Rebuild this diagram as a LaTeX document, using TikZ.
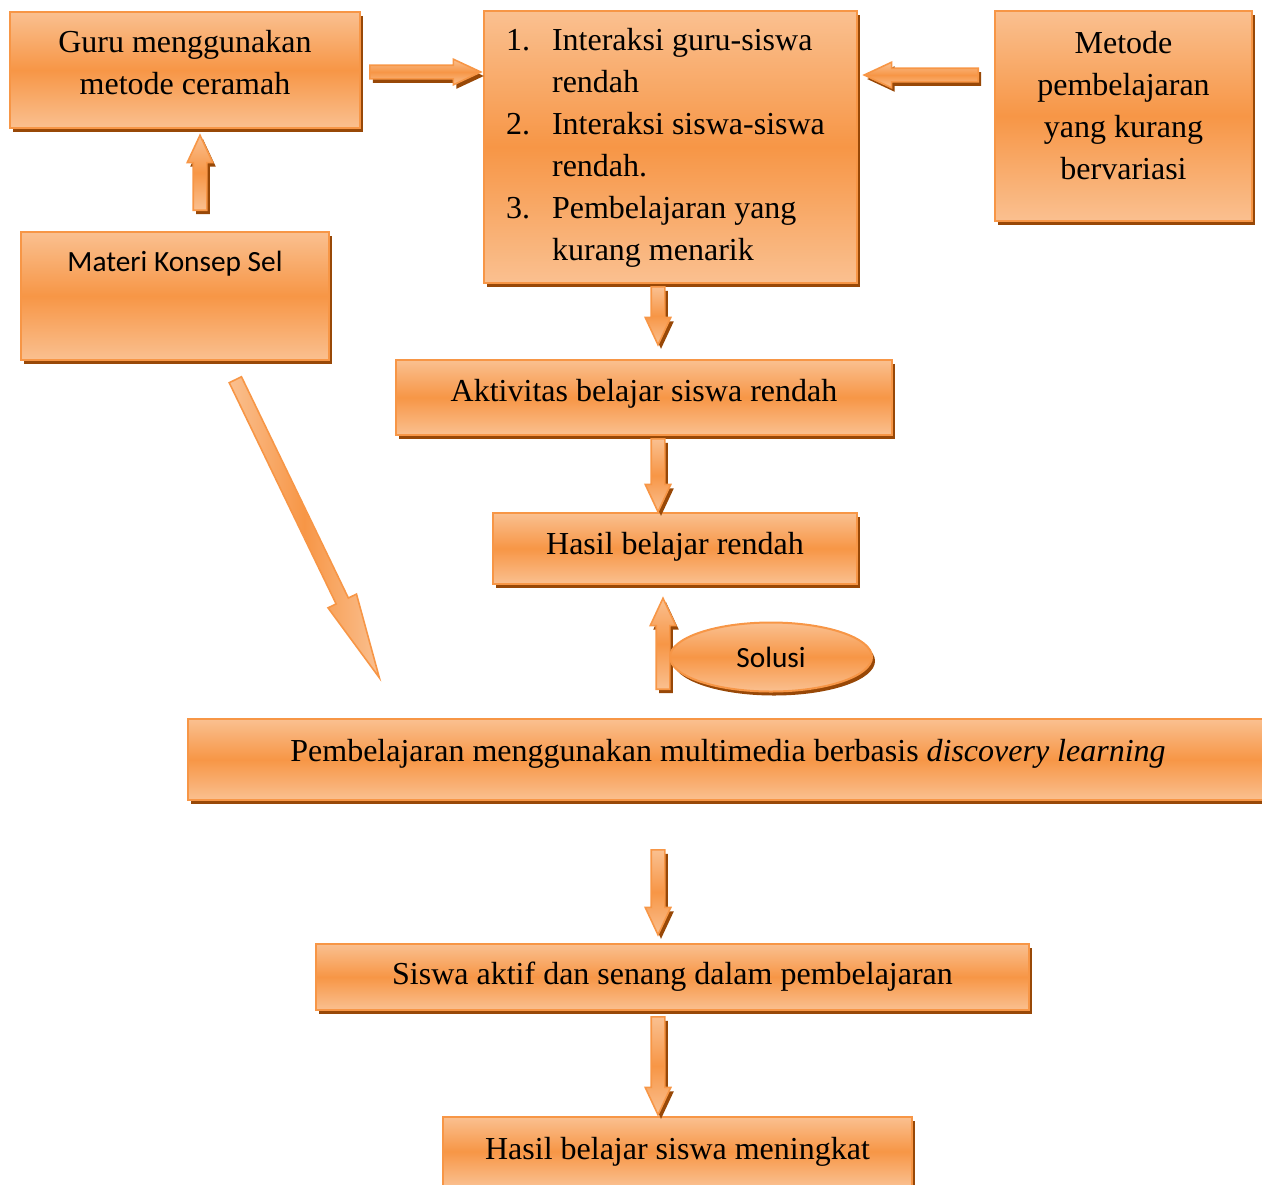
\documentclass[tikz,border=0pt]{standalone}
\usepackage{fontspec}
\setmainfont{Liberation Serif}
\newfontfamily\calibri{Carlito}
\usetikzlibrary{shapes.geometric,shapes.arrows,shadows,calc}

\definecolor{orglight}{HTML}{FAC090}
\definecolor{orgmid}{HTML}{F79646}
\definecolor{orgshadow}{HTML}{984807}

\newcommand{\blockarr}[3][barrow]{%
        \path let \p1=(#2), \p2=(#3), \n1={atan2(\y2-\y1,\x2-\x1)},
        \n2={veclen(\x2-\x1,\y2-\y1)} in
        node[#1, rotate=\n1, minimum height=\n2, anchor=tail] at (\p1) {};}

\begin{document}
\begin{tikzpicture}[x=0.5pt, y=-0.5pt,
        box/.style={rectangle, draw=orgmid, line width=1pt, inner sep=0pt,
        top color=orglight, bottom color=orglight, middle color=orgmid,
        general shadow={fill=orgshadow, shadow xshift=1.5pt, shadow yshift=-2pt},
        align=center, font=\fontsize{16}{21}\selectfont},
        barrowbase/.style={single arrow, draw=orgmid, line width=0.8pt, inner xsep=0pt,
        inner ysep=3pt, single arrow head extend=3pt, single arrow tip angle=50},
        barrow/.style={barrowbase, top color=orglight, bottom color=orglight, middle color=orgmid,
        general shadow={fill=orgshadow, shadow xshift=1.5pt, shadow yshift=-2pt}},
        slantarrow/.style={barrowbase, left color=orglight, right color=orglight, middle color=orgmid,
        single arrow head extend=4.5pt, single arrow tip angle=21},
        solusibox/.style={ellipse, draw=orgmid, line width=1pt, inner sep=0pt,
        top color=orglight, bottom color=orglight, middle color=orgmid,
        general shadow={fill=orgshadow, shadow xshift=1.5pt, shadow yshift=-2pt},
        minimum width=101pt, minimum height=34.5pt, font=\calibri\fontsize{14.67}{18}\selectfont}]
        \useasboundingbox (0,0) rectangle (1262,1184);

        \node[box, minimum width=175pt, minimum height=58pt] (guru) at (185,70)
        {\raisebox{2.5pt}[\height][\depth]{\begin{tabular}{c}Guru menggunakan\\ metode ceramah\end{tabular}}};
        \node[box, minimum width=186.5pt, minimum height=136pt] (intr) at (670.5,147)
        {\begin{tabular}{@{}p{23pt}@{}l@{}}
        1. & Interaksi guru-siswa\\ & rendah\\
        2. & Interaksi siswa-siswa\\ & rendah.\\
        3. & Pembelajaran yang\\ & kurang menarik
        \end{tabular}\hspace*{5pt}};
        \node[box, minimum width=128.5pt, minimum height=105pt] (metode) at (1123.5,116)
        {\raisebox{4pt}[\height][\depth]{\begin{tabular}{c}Metode\\ pembelajaran\\ yang kurang\\ bervariasi\end{tabular}}};
        \node[box, minimum width=154pt, minimum height=64pt, font=\calibri\fontsize{14.67}{18}\selectfont] (materi) at (175,296)
        {\raisebox{16pt}[\height][\depth]{Materi Konsep Sel}};
        \node[box, minimum width=248pt, minimum height=37.5pt] (aktiv) at (644,397.5)
        {\raisebox{2pt}[\height][\depth]{Aktivitas belajar siswa rendah}};
        \node[box, minimum width=182pt, minimum height=35.5pt] (hasil1) at (675,548.5)
        {\raisebox{1pt}[\height][\depth]{Hasil belajar rendah}};
        \node[box, minimum width=540pt, minimum height=40.5pt] (pemb) at (728,759.5)
        {\raisebox{3pt}[\height][\depth]{Pembelajaran menggunakan multimedia berbasis \textit{discovery learning}}};
        \node[box, minimum width=356.5pt, minimum height=33pt] (siswa) at (672.5,977)
        {Siswa aktif dan senang dalam pembelajaran};
        \node[box, minimum width=234.5pt, minimum height=34.5pt] (hasil2) at (677.5,1151.5)
        {Hasil belajar siswa meningkat};

        \coordinate (axis) at (658,0);
        \coordinate (solfoot) at (663,690);

        \blockarr{$(guru.east)+(8,2)$}{$(guru.east -| intr.west)+(-3,2)$}
        \blockarr{$(metode.west)+(-15,-41)$}{$(metode.west -| intr.east)+(7,-41)$}
        \blockarr{$(materi.north)+(25,-20)$}{$(guru.south)+(15,7)$}
        \blockarr{$(axis |- intr.south)+(0,2)$}{$(axis |- aktiv.north)+(0,-15)$}
        \blockarr{$(axis |- aktiv.south)+(0,2)$}{$(axis |- hasil1.north)+(0,-1)$}
        \blockarr{solfoot}{$(solfoot |- hasil1.south)+(0,14)$}
        \blockarr[slantarrow]{$(materi.south)+(60,18)$}{$(pemb.north west)+(192,-41)$}
        \blockarr{$(axis |- pemb.south)+(0,48)$}{$(axis |- siswa.north)+(0,-9)$}
        \blockarr{$(axis |- siswa.south)+(0,5)$}{$(axis |- hasil2.north)+(0,-2)$}

        \node[solusibox] (solusi) at (771,657) {Solusi};
\end{tikzpicture}
\end{document}
